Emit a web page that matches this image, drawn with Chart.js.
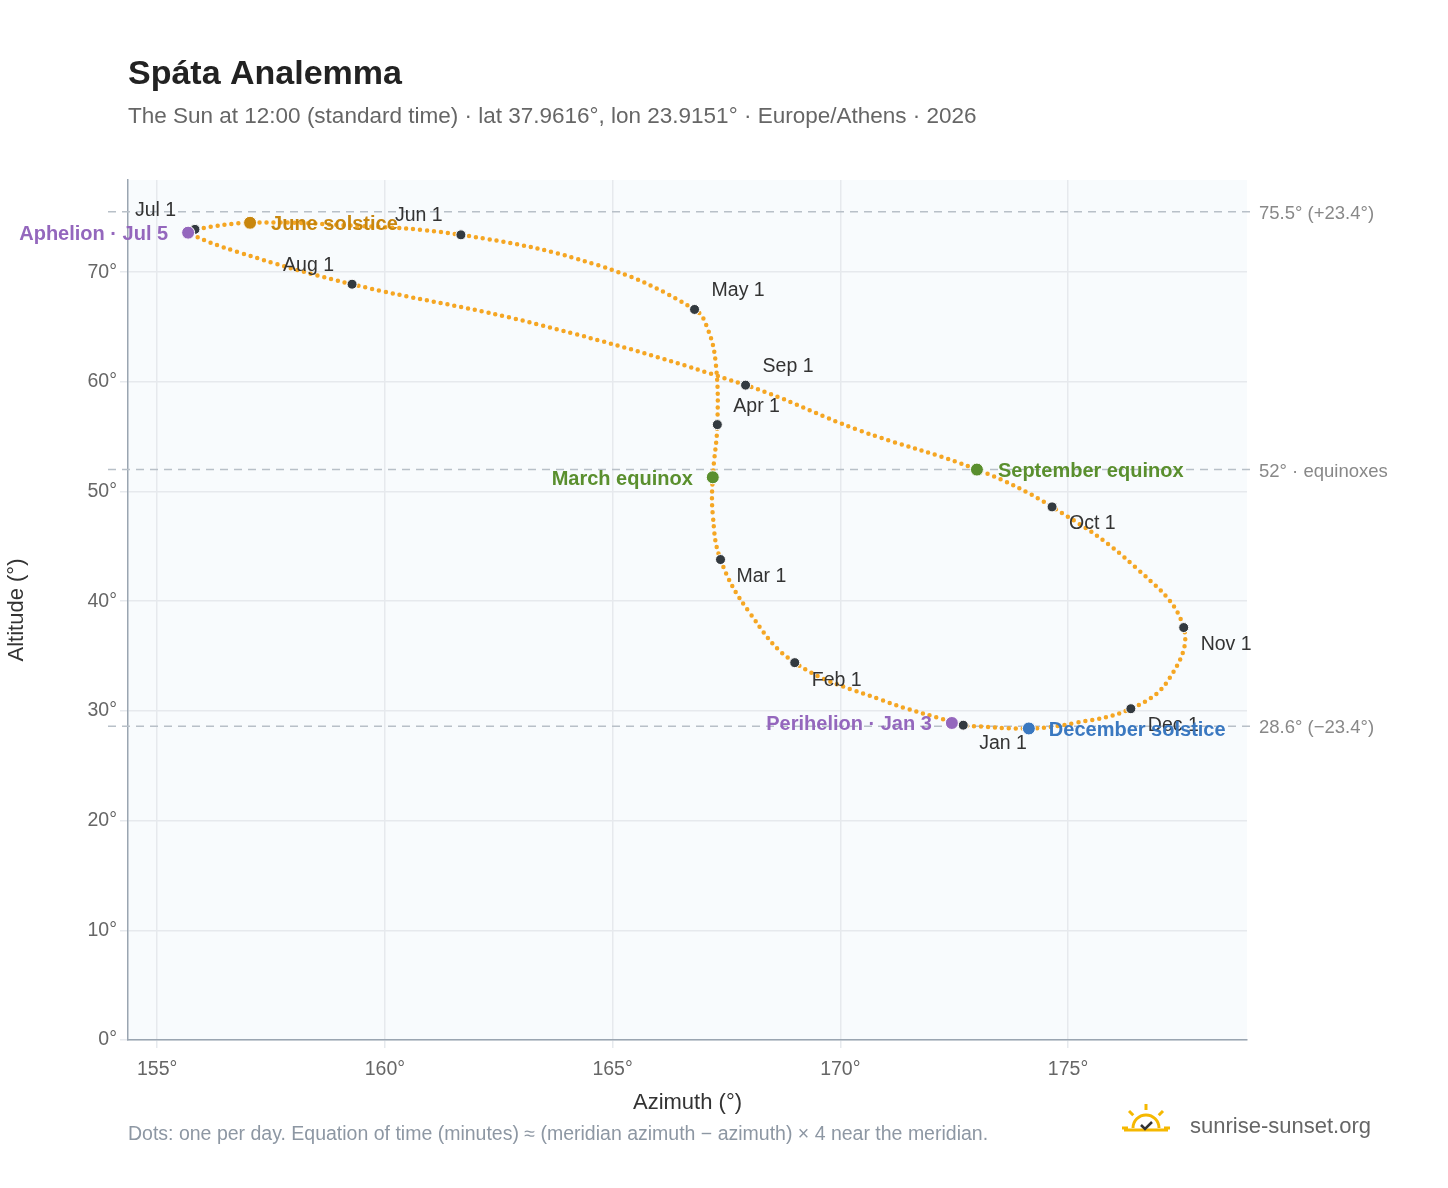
<!DOCTYPE html>
<html><head><meta charset="utf-8">
<script src="https://cdn.jsdelivr.net/npm/chart.js@4"></script>
<style>html,body{margin:0;padding:0;background:#fff}canvas{display:block}</style>
</head><body>
<div style="width:1448px;height:1188px"><canvas id="c"></canvas></div>
<script>
// Path samples, Jan 1 .. Dec 31
const pathAz  = [172.70,170.9,169.0,168.0,167.37,167.2,167.2,167.3,167.27,167.1,166.8,164.7,161.67,159.0,157.04,155.83,155.68,156.8,159.28,163.4,167.92,170.4,173.0,174.65,176.48,177.54,177.2,176.38,175.15,174.14,172.75];
const pathAlt = [28.7,31.0,34.4,39.0,43.8,47.9,51.3,56.1,61.5,64.7,66.6,70.6,73.4,74.3,74.5,73.9,73.6,71.8,68.9,65.2,59.7,55.6,52.0,48.6,43.1,37.6,32.8,30.2,28.9,28.4,28.65];
// Month markers
const monthLabels = ["Jan 1","Feb 1","Mar 1","Apr 1","May 1","Jun 1","Jul 1","Aug 1","Sep 1","Oct 1","Nov 1","Dec 1"];
const monthAz  = [172.70,169.0,167.37,167.3,166.8,161.67,155.83,159.28,167.92,174.65,177.54,176.38];
const monthAlt = [28.7,34.4,43.8,56.1,66.6,73.4,73.9,68.9,59.7,48.6,37.6,30.2];
const monthOff = [[16,18],[17,18],[16,17],[16,-18],[17,-19],[-66,-19],[-60,-19],[-69,-19],[17,-19],[17,17],[17,17],[17,17]];
// Special events
const evLabels = ["Aphelion · Jul 5","June solstice","March equinox","September equinox","Perihelion · Jan 3","December solstice"];
const evAz  = [155.68,157.04,167.2,173.0,172.45,174.14];
const evAlt = [73.6,74.5,51.3,52.0,28.9,28.4];
const evColors = ["#9467bd","#c8860d","#5a8f2e","#5a8f2e","#9467bd","#3a78c0"];
const evOff = [[-20,2,"right"],[21,2,"left"],[-20,2,"right"],[21,2,"left"],[-20,1,"right"],[20,2,"left"]];
// Reference lines
const refAlt = [75.5,52,28.6];
const refLabels = ["75.5° (+23.4°)","52° · equinoxes","28.6° (−23.4°)"];
const xTicks=[155,160,165,170,175];
const yTicks=[0,10,20,30,40,50,60,70];

const F='"Liberation Sans", Arial, sans-serif';
const deco={id:'deco',
 beforeDraw(c){const {ctx,chartArea:a}=c;ctx.save();ctx.fillStyle='#f8fbfd';ctx.fillRect(a.left,a.top,a.right-a.left,a.bottom-a.top);ctx.restore();},
 beforeDatasetsDraw(c){const {ctx,chartArea:a,scales:{y}}=c;ctx.save();ctx.strokeStyle='#b8c0c8';ctx.lineWidth=1.5;ctx.setLineDash([8,6]);
  refAlt.forEach((v,i)=>{const py=y.getPixelForValue(v);ctx.beginPath();ctx.moveTo(a.left-20,py);ctx.lineTo(a.right+5,py);ctx.stroke();
   ctx.fillStyle='#888';ctx.font='18.5px '+F;ctx.textBaseline='middle';ctx.fillText(refLabels[i],a.right+12,py+2);});
  ctx.restore();},
 afterDatasetsDraw(c){const {ctx,scales:{x,y}}=c;ctx.save();ctx.textBaseline='middle';
  ctx.font='19.5px '+F;ctx.fillStyle='#333';
  monthLabels.forEach((l,i)=>{ctx.textAlign='left';ctx.fillText(l,x.getPixelForValue(monthAz[i])+monthOff[i][0],y.getPixelForValue(monthAlt[i])+monthOff[i][1]);});
  ctx.font='bold 20px '+F;
  evLabels.forEach((l,i)=>{ctx.fillStyle=evColors[i];ctx.textAlign=evOff[i][2];ctx.fillText(l,x.getPixelForValue(evAz[i])+evOff[i][0],y.getPixelForValue(evAlt[i])+evOff[i][1]);});
  ctx.restore();},
 afterDraw(c){const ctx=c.ctx;ctx.save();ctx.textBaseline='alphabetic';ctx.textAlign='left';
  ctx.fillStyle='#222';ctx.font='bold 34px '+F;ctx.fillText('Spáta Analemma',128,84);
  ctx.fillStyle='#666';ctx.font='22.5px '+F;ctx.fillText('The Sun at 12:00 (standard time) · lat 37.9616°, lon 23.9151° · Europe/Athens · 2026',128,123);
  ctx.fillStyle='#8d97a3';ctx.font='19.5px '+F;ctx.fillText('Dots: one per day. Equation of time (minutes) ≈ (meridian azimuth − azimuth) × 4 near the meridian.',128,1140);
  ctx.fillStyle='#666';ctx.font='22px '+F;ctx.fillText('sunrise-sunset.org',1190,1133);
  const cx=1146,cy=1128;ctx.strokeStyle='#f5b800';ctx.lineWidth=3;ctx.beginPath();ctx.arc(cx,cy,13,Math.PI,2*Math.PI);ctx.stroke();
  for(let k=0;k<5;k++){const an=Math.PI+k*Math.PI/4;ctx.beginPath();ctx.moveTo(cx+Math.cos(an)*18,cy+Math.sin(an)*18);ctx.lineTo(cx+Math.cos(an)*24,cy+Math.sin(an)*24);ctx.stroke();}
  ctx.beginPath();ctx.moveTo(cx-22,cy+2);ctx.lineTo(cx+22,cy+2);ctx.stroke();
  ctx.strokeStyle='#333';ctx.lineWidth=2.5;ctx.beginPath();ctx.moveTo(cx-5,cy-3);ctx.lineTo(cx-1,cy+1);ctx.lineTo(cx+6,cy-6);ctx.stroke();
  ctx.restore();}
};
new Chart(document.getElementById('c'),{type:'scatter',
 data:{datasets:[
  {order:3,data:pathAz.map((v,i)=>({x:v,y:pathAlt[i]})),showLine:true,tension:0.4,borderColor:'#f5a623',borderWidth:4.5,borderDash:[0,7],borderCapStyle:'round',pointRadius:0},
  {order:2,data:monthAz.map((v,i)=>({x:v,y:monthAlt[i]})),pointRadius:5,pointBackgroundColor:'#333a40',pointBorderColor:'#fff',pointBorderWidth:1},
  {order:1,data:evAz.map((v,i)=>({x:v,y:evAlt[i]})),pointRadius:6.5,pointBackgroundColor:evColors,pointBorderColor:'#fff',pointBorderWidth:1}
 ]},
 options:{responsive:true,maintainAspectRatio:false,animation:false,
  layout:{padding:{top:180,right:201,bottom:68,left:0}},
  plugins:{legend:{display:false},tooltip:{enabled:false}},
  scales:{
   x:{min:154.36,max:178.93,afterFit(s){s.height=80;},
     afterBuildTicks(s){s.ticks=xTicks.map(v=>({value:v}));},
     ticks:{callback:v=>v+'°',color:'#666',padding:10,font:{size:19.5,family:F}},
     grid:{color:'#e6e9ed',lineWidth:1.5},border:{color:'#9aa5b1',width:1.5},
     title:{display:true,text:'Azimuth (°)',color:'#333',padding:{top:0},font:{size:22,family:F}}},
   y:{min:0,max:78.4,afterFit(s){s.width=128;},
     afterBuildTicks(s){s.ticks=yTicks.map(v=>({value:v}));},
     ticks:{callback:v=>v+'°',color:'#666',font:{size:19.5,family:F}},
     grid:{color:'#e6e9ed',lineWidth:1.5},border:{color:'#9aa5b1',width:1.5},
     title:{display:true,text:'Altitude (°)',color:'#333',padding:{bottom:0},font:{size:22,family:F}}}
  }},
 plugins:[deco]});
</script></body></html>
